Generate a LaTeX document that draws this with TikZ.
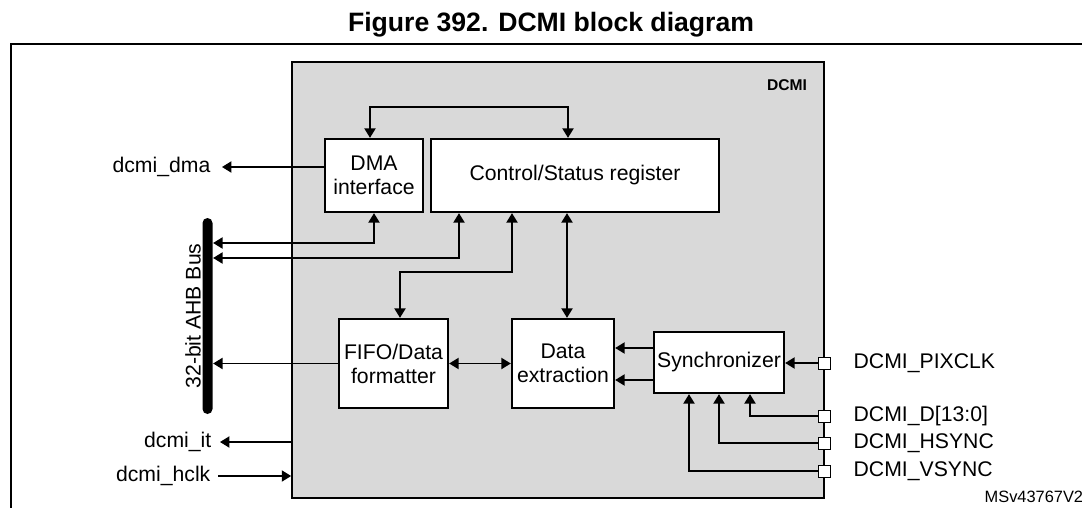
\documentclass[tikz,border=0pt]{standalone}
\usepackage{fontspec}
\setmainfont{Liberation Sans}
\usetikzlibrary{arrows.meta,positioning}
\begin{document}
\begin{tikzpicture}[x=0.5pt,y=-0.5pt,line width=0.65pt,
  >={Triangle[length=4.7pt,width=5.6pt]},
  font=\fontsize{10.6}{12}\selectfont]
  \useasboundingbox (0,0) rectangle (1082,508);
  \tikzstyle{block} = [draw,fill=white,line width=1.2pt,inner sep=1pt,align=center];
  \tikzstyle{pad} = [draw,fill=white,line width=0.5pt,minimum size=6pt,inner sep=0pt];
  \tikzstyle{sig} = [inner sep=0pt];
  % title and frame
  \node[font=\fontsize{13.3}{15}\selectfont\bfseries] (title) at (551,25) {Figure 392. DCMI block diagram};
  \draw[line width=1pt] (11,530) -- (11,44) -- (1100,44);
  % DCMI peripheral
  \node[draw,fill=gray!30,line width=0.85pt,minimum width=266pt,minimum height=218pt] (dcmi) at (558,280) {};
  \node[font=\fontsize{7.8}{9}\selectfont\bfseries] (dcmilbl) at (787,85) {DCMI};
  \node[block,minimum width=49pt,minimum height=36.5pt] (dma) at (374,175.5) {DMA\\interface};
  \node[block,minimum width=144pt,minimum height=36.5pt] (ctrl) at (575,175.5) {Control/Status register};
  \node[block,minimum width=54.5pt,minimum height=44.5pt] (fifo) at (393.5,363.5) {FIFO/Data\\formatter};
  \node[block,minimum width=51pt,minimum height=44.5pt] (extr) at (563,363.5) {Data\\extraction};
  \node[block,minimum width=65pt,minimum height=30.5pt] (sync) at (719,362.5) {Synchronizer};
  % AHB bus
  \node[fill=black,rounded corners=2.5pt,minimum width=5pt,minimum height=98pt,inner sep=0pt] (bus) at (207.5,316) {};
  \node[sig,rotate=90] (buslbl) at (193,316) {32-bit AHB Bus};
  % pads
  \node[pad] (ppix) at (824,363) {};
  \node[pad] (pdat) at (824,416) {};
  \node[pad] (phs) at (824,443) {};
  \node[pad] (pvs) at (824,471) {};
  \node[sig,anchor=west] (lpix) at (853,363) {DCMI\_PIXCLK};
  \node[sig,anchor=west] (ldat) at (853,416) {DCMI\_D[13:0]};
  \node[sig,anchor=west] (lhs) at (853,443) {DCMI\_HSYNC};
  \node[sig,anchor=west] (lvs) at (853,471) {DCMI\_VSYNC};
  % outer signals
  \coordinate (dmaout) at (222,167);
  \coordinate (itout) at (220,442);
  \coordinate (hclkin) at (218,476);
  \node[sig,anchor=east] (ldma) at (211,167) {dcmi\_dma};
  \node[sig,anchor=east] (lit) at (212,442) {dcmi\_it};
  \node[sig,anchor=east] (lhclk) at (211,476) {dcmi\_hclk};
  \node[sig,anchor=west,font=\fontsize{8.2}{10}\selectfont] (ref) at (984,497) {MSv43767V2};
  % levels and taps
  \coordinate (ytop) at (0,107);
  \coordinate (yb1) at (0,243);
  \coordinate (yb2) at (0,258);
  \coordinate (yff) at (0,272);
  \coordinate (ysa) at (0,348);
  \coordinate (ysb) at (0,380);
  \coordinate (xd) at (370,0);
  \coordinate (xc1) at (459,0);
  \coordinate (xc2) at (512,0);
  \coordinate (xc3) at (567,0);
  \coordinate (xc4) at (568,0);
  \coordinate (xff) at (400,0);
  \coordinate (xvs) at (689,0);
  \coordinate (xhs) at (719,0);
  \coordinate (xdat) at (750,0);
  % connectors
  \draw[<->] (xd |- dma.north) |- (xc4 |- ytop) -- (xc4 |- ctrl.north);
  \draw[->] (dma.west |- dmaout) -- (dmaout);
  \draw[<->] (dma.south) |- (bus.east |- yb1);
  \draw[<->] (xc1 |- ctrl.south) |- (bus.east |- yb2);
  \draw[<->] (xc2 |- ctrl.south) |- (xff |- yff) -- (xff |- fifo.north);
  \draw[<->] (xc3 |- ctrl.south) -- (xc3 |- extr.north);
  \draw[->] (fifo.west) -- (fifo.west -| bus.east);
  \draw[<->] (fifo.east) -- (fifo.east -| extr.west);
  \draw[->] (sync.west |- ysa) -- (extr.east |- ysa);
  \draw[->] (sync.west |- ysb) -- (extr.east |- ysb);
  \draw[->] (ppix.west) -- (ppix.west -| sync.east);
  \draw[->] (pdat.west) -| (xdat |- sync.south);
  \draw[->] (phs.west) -| (xhs |- sync.south);
  \draw[->] (pvs.west) -| (xvs |- sync.south);
  \draw[->] (itout -| dcmi.west) -- (itout);
  \draw[->] (hclkin) -- (hclkin -| dcmi.west);
\end{tikzpicture}
\end{document}
